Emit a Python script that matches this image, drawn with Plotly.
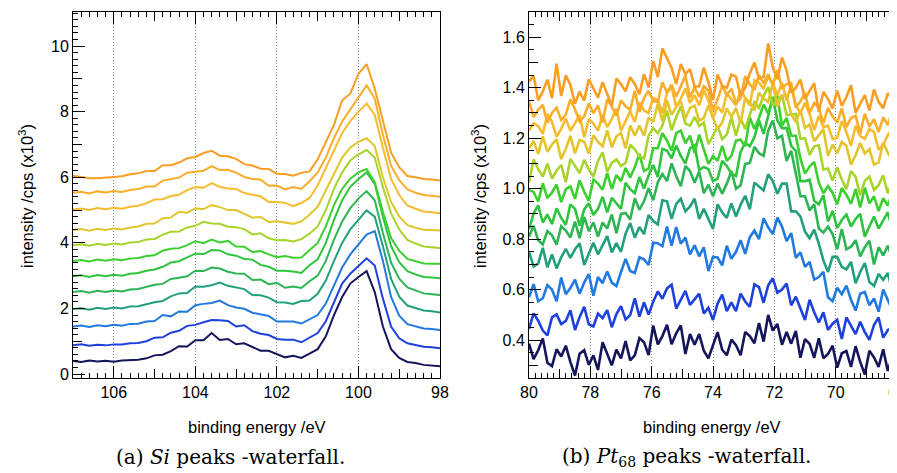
import plotly.graph_objects as go

# ---------------- data ----------------
# measurement grids (binding energy, eV)
si_energy = [round(107 - 0.2 * i, 1) for i in range(46)]
pt_energy = [round(80 - 0.15 * i, 2) for i in range(81)]

# Si 2p spectra, cps (bottom -> top of the waterfall)
si_s01 = [400, 370, 415, 385, 405, 375, 410, 425, 435, 480,
          570, 590, 700, 850, 840, 1030, 1030, 1250, 1040, 1070,
          910, 940, 830, 710, 710, 600, 510, 560, 490, 620,
          760, 1150, 1800, 2350, 2760, 2960, 3140, 2500, 1450, 760,
          490, 370, 340, 280, 265, 235]
si_s02 = [880, 910, 865, 895, 875, 905, 900, 940, 945, 1000,
          1110, 1120, 1260, 1320, 1470, 1500, 1580, 1650, 1640, 1620,
          1450, 1490, 1310, 1230, 1190, 1070, 1050, 1050, 970, 1100,
          1250, 1610, 2200, 2760, 3060, 3300, 3530, 3310, 2300, 1450,
          1090, 940, 890, 830, 815, 790]
si_s03 = [1450, 1480, 1435, 1485, 1455, 1500, 1475, 1530, 1535, 1600,
          1620, 1800, 1760, 1910, 1900, 2100, 2140, 2170, 2240, 2100,
          2030, 1990, 1870, 1820, 1770, 1600, 1610, 1600, 1540, 1660,
          1800, 2150, 2700, 3250, 3650, 3960, 4250, 4360, 3450, 2350,
          1780, 1520, 1450, 1390, 1375, 1340]
si_s04 = [1980, 2010, 1960, 2020, 1985, 2030, 2000, 2060, 2070, 2140,
          2190, 2230, 2370, 2460, 2470, 2670, 2660, 2710, 2790, 2690,
          2640, 2590, 2410, 2400, 2330, 2190, 2180, 2140, 2225, 2240,
          2450, 2850, 3450, 4000, 4410, 4700, 4990, 4800, 3900, 2900,
          2360, 2090, 2010, 1940, 1915, 1880]
si_s05 = [2500, 2530, 2480, 2540, 2505, 2550, 2520, 2580, 2595, 2660,
          2720, 2750, 2900, 2940, 2980, 3150, 3140, 3250, 3220, 3120,
          3070, 3060, 2870, 2880, 2740, 2780, 2630, 2670, 2625, 2830,
          3000, 3450, 4100, 4650, 5060, 5350, 5580, 5300, 4300, 3400,
          2910, 2640, 2540, 2460, 2435, 2410]
si_s06 = [2980, 3010, 2960, 3020, 2985, 3030, 3000, 3060, 3080, 3150,
          3190, 3270, 3400, 3440, 3560, 3670, 3660, 3780, 3770, 3650,
          3610, 3510, 3490, 3330, 3270, 3150, 3150, 3130, 3085, 3320,
          3500, 4000, 4700, 5300, 5710, 5950, 6150, 5800, 4800, 3900,
          3410, 3140, 3040, 2960, 2945, 2920]
si_s07 = [3450, 3480, 3430, 3490, 3455, 3500, 3470, 3520, 3540, 3600,
          3620, 3760, 3820, 3840, 3930, 4050, 3990, 4100, 4010, 4060,
          3890, 3880, 3720, 3750, 3650, 3560, 3600, 3550, 3555, 3790,
          4000, 4500, 5150, 5650, 5960, 6150, 6250, 5850, 4950, 4150,
          3760, 3510, 3440, 3370, 3365, 3360]
si_s08 = [3930, 3960, 3910, 3970, 3935, 3980, 3950, 4010, 4030, 4100,
          4120, 4250, 4340, 4350, 4470, 4520, 4640, 4590, 4580, 4490,
          4480, 4420, 4260, 4290, 4140, 4080, 4090, 4040, 4115, 4280,
          4500, 5000, 5650, 6150, 6510, 6700, 6830, 6600, 5700, 4900,
          4410, 4090, 3980, 3890, 3865, 3840]
si_s09 = [4390, 4420, 4370, 4430, 4395, 4440, 4410, 4470, 4500, 4580,
          4590, 4750, 4770, 4950, 4920, 5050, 5030, 5150, 5090, 5000,
          5000, 4890, 4770, 4790, 4640, 4660, 4620, 4580, 4655, 4860,
          5100, 5600, 6150, 6600, 6910, 7080, 7190, 6950, 6000, 5250,
          4810, 4540, 4460, 4400, 4395, 4380]
si_s10 = [5020, 5050, 5000, 5060, 5025, 5070, 5040, 5100, 5130, 5210,
          5320, 5330, 5430, 5470, 5610, 5700, 5680, 5820, 5710, 5660,
          5640, 5520, 5470, 5420, 5250, 5250, 5220, 5120, 5215, 5370,
          5750, 6300, 6850, 7350, 7710, 8000, 8250, 7900, 6900, 5950,
          5460, 5140, 5040, 4960, 4935, 4900]
si_s11 = [5530, 5560, 5510, 5570, 5535, 5580, 5550, 5610, 5640, 5720,
          5720, 5900, 5950, 5990, 6140, 6180, 6200, 6340, 6220, 6230,
          6140, 6010, 5950, 5930, 5740, 5750, 5630, 5700, 5645, 5880,
          6150, 6600, 7200, 7700, 8060, 8450, 8800, 8400, 7300, 6350,
          5910, 5630, 5530, 5460, 5445, 5410]
si_s12 = [6050, 6020, 5970, 5970, 5980, 6010, 6030, 6090, 6120, 6190,
          6190, 6370, 6370, 6450, 6580, 6620, 6740, 6810, 6660, 6640,
          6560, 6400, 6360, 6260, 6250, 6110, 6100, 6050, 6135, 6180,
          6550, 7050, 7600, 8350, 8550, 9150, 9450, 8700, 7700, 6750,
          6310, 6040, 6000, 5950, 5935, 5900]

# Pt 4f spectra, cps (bottom -> top of the waterfall)
pt_s01 = [386, 325, 360, 407, 310, 297, 364, 335, 378, 313,
          260, 346, 360, 302, 340, 282, 392, 346, 300, 362,
          328, 396, 320, 340, 408, 392, 341, 458, 383, 416,
          461, 384, 427, 458, 345, 424, 382, 424, 358, 328,
          382, 432, 362, 340, 402, 380, 340, 432, 416, 388,
          468, 394, 500, 438, 464, 382, 432, 386, 436, 330,
          404, 385, 330, 407, 328, 345, 378, 291, 348, 357,
          294, 376, 314, 264, 358, 332, 294, 364, 278, 336, 298]
pt_s02 = [445, 506, 477, 438, 419, 490, 502, 464, 476, 518,
          440, 491, 532, 463, 454, 505, 487, 519, 451, 503,
          535, 482, 499, 566, 493, 550, 501, 552, 593, 564,
          605, 620, 525, 560, 595, 540, 562, 584, 506, 528,
          480, 545, 580, 515, 550, 515, 584, 553, 532, 621,
          610, 548, 617, 645, 588, 600, 624, 538, 572, 526,
          480, 560, 510, 470, 510, 440, 465, 480, 405, 490,
          455, 424, 473, 432, 401, 460, 490, 410, 440, 450, 420]
pt_s03 = [570, 622, 554, 566, 618, 600, 554, 648, 582, 606,
          640, 584, 628, 662, 576, 650, 626, 672, 628, 614,
          670, 722, 674, 666, 728, 720, 698, 786, 784, 772,
          850, 774, 848, 782, 806, 740, 776, 732, 768, 674,
          730, 728, 696, 774, 722, 750, 796, 742, 808, 834,
          800, 883, 847, 820, 885, 850, 792, 824, 726, 748,
          690, 710, 640, 650, 670, 570, 554, 608, 582, 616,
          560, 517, 584, 591, 538, 565, 513, 601, 559, 517, 565]
pt_s04 = [750, 692, 704, 766, 688, 740, 684, 728, 762, 726,
          760, 784, 698, 742, 786, 740, 776, 812, 748, 784,
          750, 822, 864, 806, 848, 820, 896, 872, 858, 954,
          950, 880, 940, 960, 910, 930, 960, 880, 920, 880,
          840, 938, 906, 884, 942, 890, 936, 972, 918, 1024,
          1010, 993, 1057, 1030, 980, 1020, 1020, 910, 910, 890,
          830, 804, 838, 782, 716, 670, 730, 730, 690, 680,
          710, 625, 670, 705, 630, 615, 662, 639, 666, 593, 640]
pt_s05 = [810, 853, 796, 779, 832, 815, 778, 851, 834, 807,
          870, 804, 888, 832, 866, 810, 866, 842, 898, 824,
          900, 904, 878, 962, 916, 950, 1002, 954, 1026, 1058,
          1030, 1100, 1050, 1010, 1090, 1070, 1024, 1068, 982, 1016,
          970, 1020, 980, 1020, 1070, 1000, 1014, 1098, 1102, 1166,
          1140, 1130, 1230, 1270, 1200, 1210, 1110, 1150, 1060, 970,
          970, 914, 938, 842, 826, 850, 820, 760, 840, 760,
          770, 796, 732, 768, 794, 700, 768, 736, 774, 722, 700]
pt_s06 = [840, 902, 934, 866, 898, 860, 922, 884, 856, 938,
          920, 854, 918, 942, 896, 920, 968, 906, 964, 942,
          920, 1024, 998, 982, 1046, 1000, 1052, 1094, 1046, 1158,
          1150, 1120, 1170, 1130, 1100, 1160, 1172, 1074, 1086, 1078,
          1030, 1040, 1110, 1090, 1060, 1050, 1146, 1182, 1168, 1204,
          1270, 1217, 1293, 1360, 1270, 1240, 1240, 1170, 1150, 1030,
          1030, 1036, 952, 938, 974, 870, 912, 844, 876, 898,
          850, 880, 900, 810, 850, 890, 842, 874, 906, 838, 870]
pt_s07 = [995, 987, 949, 1021, 963, 985, 1016, 947, 998, 1009,
          960, 1034, 988, 952, 1036, 1020, 996, 1062, 998, 1054,
          1030, 1082, 1044, 1086, 1138, 1070, 1080, 1160, 1160, 1220,
          1190, 1150, 1220, 1230, 1180, 1210, 1142, 1214, 1156, 1098,
          1130, 1110, 1170, 1110, 1130, 1190, 1194, 1168, 1282, 1236,
          1280, 1333, 1297, 1360, 1365, 1250, 1280, 1210, 1210, 1120,
          1060, 1088, 1106, 1024, 982, 1010, 984, 938, 1002, 976,
          940, 998, 926, 1004, 942, 970, 911, 962, 933, 984, 905]
pt_s08 = [1025, 1116, 1077, 1048, 1099, 1040, 1072, 1094, 1026, 1118,
          1090, 1062, 1114, 1076, 1048, 1110, 1144, 1068, 1102, 1116,
          1090, 1102, 1174, 1156, 1128, 1120, 1210, 1240, 1220, 1250,
          1310, 1232, 1284, 1326, 1258, 1250, 1284, 1248, 1262, 1176,
          1210, 1248, 1196, 1214, 1282, 1210, 1278, 1236, 1294, 1342,
          1320, 1367, 1403, 1330, 1350, 1370, 1292, 1294, 1296, 1198,
          1200, 1134, 1168, 1172, 1076, 1080, 1032, 1084, 1036, 998,
          1070, 1047, 974, 1031, 1048, 995, 1014, 1053, 982, 1031, 1000]
pt_s09 = [1160, 1189, 1138, 1207, 1146, 1175, 1196, 1117, 1158, 1209,
          1140, 1193, 1186, 1139, 1212, 1185, 1168, 1231, 1164, 1207,
          1220, 1160, 1250, 1210, 1250, 1210, 1282, 1264, 1336, 1268,
          1350, 1292, 1324, 1346, 1278, 1320, 1330, 1270, 1280, 1330,
          1280, 1236, 1262, 1318, 1284, 1320, 1260, 1360, 1340, 1310,
          1380, 1357, 1343, 1420, 1325, 1370, 1368, 1296, 1264, 1312,
          1240, 1254, 1188, 1212, 1236, 1130, 1175, 1140, 1185, 1170,
          1095, 1133, 1181, 1139, 1157, 1095, 1104, 1183, 1142, 1111, 1160]
pt_s10 = [1230, 1259, 1248, 1217, 1296, 1265, 1206, 1237, 1278, 1229,
          1260, 1292, 1204, 1276, 1258, 1230, 1292, 1244, 1276, 1318,
          1230, 1268, 1306, 1264, 1342, 1310, 1300, 1360, 1350, 1300,
          1380, 1402, 1324, 1356, 1398, 1340, 1370, 1330, 1390, 1350,
          1280, 1326, 1302, 1378, 1354, 1330, 1390, 1360, 1330, 1430,
          1420, 1397, 1443, 1420, 1370, 1420, 1350, 1410, 1330, 1300,
          1340, 1296, 1232, 1288, 1244, 1250, 1196, 1202, 1268, 1224,
          1170, 1249, 1208, 1197, 1236, 1225, 1154, 1173, 1212, 1241, 1180]
pt_s11 = [1345, 1284, 1313, 1332, 1261, 1300, 1321, 1272, 1293, 1354,
          1315, 1266, 1287, 1338, 1299, 1330, 1262, 1354, 1326, 1288,
          1350, 1326, 1312, 1388, 1304, 1360, 1388, 1346, 1344, 1422,
          1380, 1412, 1364, 1406, 1448, 1360, 1402, 1364, 1406, 1388,
          1310, 1354, 1408, 1372, 1396, 1340, 1358, 1446, 1414, 1392,
          1450, 1417, 1453, 1410, 1470, 1400, 1414, 1418, 1322, 1346,
          1380, 1300, 1340, 1320, 1260, 1320, 1286, 1262, 1318, 1244,
          1280, 1289, 1218, 1297, 1246, 1275, 1224, 1283, 1252, 1311, 1230]
pt_s12 = [1424, 1447, 1350, 1385, 1432, 1359, 1495, 1367, 1449, 1411,
          1337, 1385, 1349, 1433, 1397, 1361, 1422, 1375, 1328, 1437,
          1414, 1386, 1442, 1414, 1374, 1454, 1402, 1506, 1442, 1556,
          1518, 1478, 1414, 1494, 1454, 1474, 1404, 1406, 1480, 1422,
          1352, 1452, 1408, 1400, 1452, 1444, 1368, 1400, 1456, 1500,
          1436, 1443, 1575, 1480, 1434, 1520, 1468, 1380, 1400, 1432,
          1356, 1387, 1418, 1305, 1384, 1355, 1318, 1389, 1328, 1363,
          1410, 1301, 1336, 1371, 1310, 1393, 1344, 1319, 1378, 1353, 1280]

series_colors = ["#15155c", "#1e40dc", "#2279e0", "#22a07c", "#2db554", "#2fc43e",
                 "#3ccf30", "#a8d42c", "#e2c52c", "#f6bb2e", "#f9ad2a", "#f99e22"]

si_series = [si_s01, si_s02, si_s03, si_s04, si_s05, si_s06,
             si_s07, si_s08, si_s09, si_s10, si_s11, si_s12]
pt_series = [pt_s01, pt_s02, pt_s03, pt_s04, pt_s05, pt_s06,
             pt_s07, pt_s08, pt_s09, pt_s10, pt_s11, pt_s12]

# medium-length tick positions
si_mid_x = [99, 101, 103, 105]
si_mid_y = [1, 3, 5, 7, 9]
pt_mid_x = [69, 71, 73, 75, 77, 79]
pt_mid_y = [0.3, 0.5, 0.7, 0.9, 1.1, 1.3, 1.5]

# ---------------- figure ----------------
# The page body has an 8px margin, so the figure occupies the window from (8, 8).
OFF = 8
W, H = 897 - OFF, 473 - OFF


def px(x):  # window x pixel -> paper fraction
    return (x - OFF) / W


def py(y):  # window y pixel (from top) -> paper fraction
    return 1 - (y - OFF) / H


fig = go.Figure()

for vals, col in zip(si_series, series_colors):
    fig.add_trace(go.Scatter(x=si_energy, y=[v / 1000 for v in vals], mode="lines",
                             line=dict(color=col, width=2), xaxis="x", yaxis="y",
                             showlegend=False, hoverinfo="skip"))
for vals, col in zip(pt_series, series_colors):
    fig.add_trace(go.Scatter(x=pt_energy, y=[v / 1000 for v in vals], mode="lines",
                             line=dict(color=col, width=2.6), xaxis="x2", yaxis="y2",
                             showlegend=False, hoverinfo="skip"))
# empty traces that carry the overlay axes used for medium ticks
fig.add_trace(go.Scatter(x=[], y=[], xaxis="x3", yaxis="y3", showlegend=False))
fig.add_trace(go.Scatter(x=[], y=[], xaxis="x4", yaxis="y4", showlegend=False))

tick_font = dict(family="Liberation Sans, Arial, sans-serif", size=16, color="black")
ax_common = dict(showline=True, linecolor="black", linewidth=1, ticks="inside",
                 ticklen=12, tickwidth=1, tickcolor="black", tickfont=tick_font,
                 zeroline=False, fixedrange=True, automargin=False,
                 ticklabeloverflow="allow")
grid_style = dict(showgrid=True, gridcolor="#8a8a8a", griddash="1px,2px", gridwidth=1)
mid_common = dict(showline=False, showgrid=False, zeroline=False, ticks="inside",
                  ticklen=9, tickwidth=1, tickcolor="black", showticklabels=False,
                  fixedrange=True, automargin=False, tickmode="array")


def minor(d):
    return dict(ticks="inside", ticklen=5, dtick=d, tick0=0, tickcolor="black",
                tickwidth=1, showgrid=False)


ydom = [py(378), py(12)]
si_xr, si_yr = [107, 98], [-0.12, 11.04]
pt_xr, pt_yr = [80, 68], [0.25, 1.70]

fig.update_layout(
    width=W, height=H, margin=dict(l=0, r=0, t=0, b=0, autoexpand=False),
    paper_bgcolor="white", plot_bgcolor="white",
    xaxis=dict(domain=[px(73), px(440)], range=si_xr, anchor="y", dtick=2, tick0=0,
               mirror="allticks", minor=minor(0.2), **grid_style, **ax_common),
    yaxis=dict(domain=ydom, range=si_yr, anchor="x", dtick=2, tick0=0,
               mirror=True, showgrid=False, minor=minor(0.2), **ax_common),
    xaxis2=dict(domain=[px(529), 1.0], range=pt_xr, anchor="y2", dtick=2, tick0=0,
                mirror="allticks", minor=minor(0.2), **grid_style, **ax_common),
    yaxis2=dict(domain=ydom, range=pt_yr, anchor="x2", dtick=0.2, tick0=0,
                tickformat=".1f", mirror=True, showgrid=False, minor=minor(0.05),
                **ax_common),
    xaxis3=dict(overlaying="x", anchor="y3", range=si_xr, tickvals=si_mid_x,
                mirror="ticks", **mid_common),
    yaxis3=dict(overlaying="y", anchor="x3", range=si_yr, tickvals=si_mid_y, **mid_common),
    xaxis4=dict(overlaying="x2", anchor="y4", range=pt_xr, tickvals=pt_mid_x,
                mirror="ticks", **mid_common),
    yaxis4=dict(overlaying="y2", anchor="x4", range=pt_yr, tickvals=pt_mid_y, **mid_common),
)

title_font = dict(family="Liberation Sans, Arial, sans-serif", size=16.5, color="black")
cap_font = dict(family="DejaVu Serif, serif", size=20, color="black")
ann = [
    dict(x=px(257), y=py(427), text="binding energy /eV", font=title_font),
    dict(x=px(712), y=py(427), text="binding energy /eV", font=title_font),
    dict(x=px(26), y=py(196), text="intensity /cps (x10<sup>3</sup>)",
         font=title_font, textangle=-90),
    dict(x=px(479), y=py(196), text="intensity /cps (x10<sup>3</sup>)",
         font=title_font, textangle=-90),
    dict(x=px(230), y=py(457), text="(a) <i>Si</i> peaks -waterfall.", font=cap_font),
    dict(x=px(686), y=py(457), text="(b) <i>Pt</i><sub>68</sub> peaks -waterfall.",
         font=cap_font),
]
for a in ann:
    fig.add_annotation(xref="paper", yref="paper", showarrow=False,
                       xanchor="center", yanchor="middle", **a)

fig.write_html("out.html")
